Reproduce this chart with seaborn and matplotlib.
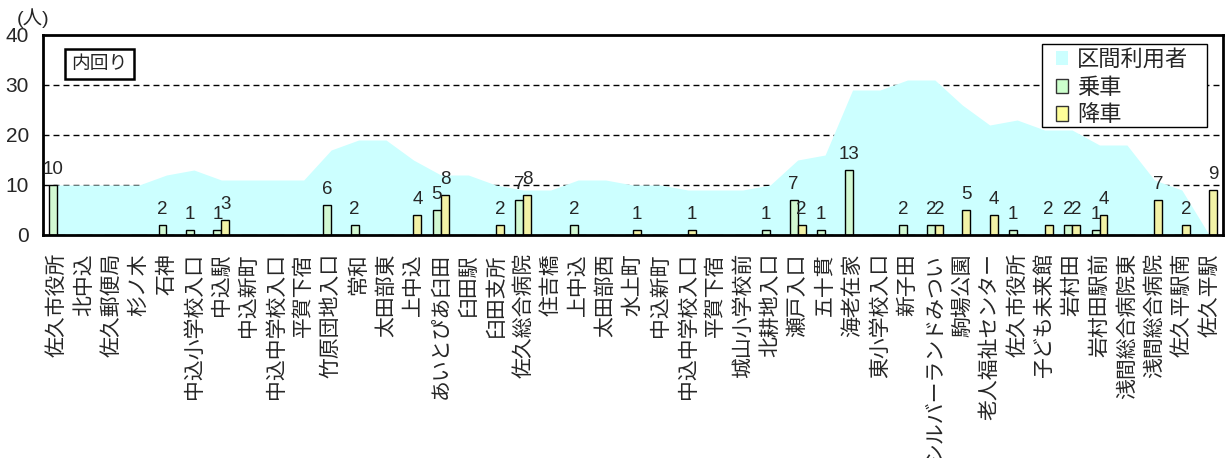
import numpy as np
import pandas as pd
import seaborn as sns
import matplotlib.pyplot as plt
from matplotlib.patches import Patch, Rectangle

# 停留所 (内回り)
stops = [
    "佐久市役所", "北中込", "佐久郵便局", "杉ノ木", "石神", "中込小学校入口", "中込駅",
    "中込新町", "中込中学校入口", "平賀下宿", "竹原団地入口", "常和", "太田部東", "上中込",
    "あいとぴあ臼田", "臼田駅", "臼田支所", "佐久総合病院", "住吉橋", "上中込", "太田部西",
    "水上町", "中込新町", "中込中学校入口", "平賀下宿", "城山小学校前", "北耕地入口", "瀬戸入口",
    "五十貫", "海老在家", "東小学校入口", "新子田", "シルバーランドみつい", "駒場公園",
    "老人福祉センター", "佐久市役所", "子ども未来館", "岩村田", "岩村田駅前", "浅間総合病院東",
    "浅間総合病院", "佐久平駅南", "佐久平駅",
]
# 区間利用者
riders = [10, 10, 10, 10, 12, 13, 11, 11, 11, 11, 17, 19, 19, 15, 12, 12, 10, 9, 9, 11, 11,
          10, 10, 9, 9, 9, 10, 15, 16, 29, 29, 31, 31, 26, 22, 23, 21, 21, 18, 18, 11, 9, 0]
# 乗車
board = [10, 0, 0, 0, 2, 1, 1, 0, 0, 0, 6, 2, 0, 0, 5, 0, 0, 7, 0, 2, 0,
         0, 0, 0, 0, 0, 1, 7, 1, 13, 0, 2, 2, 0, 0, 1, 0, 2, 1, 0, 0, 0, 0]
# 降車
alight = [0, 0, 0, 0, 0, 0, 3, 0, 0, 0, 0, 0, 0, 4, 8, 0, 2, 8, 0, 0, 0,
          1, 0, 1, 0, 0, 0, 2, 0, 0, 0, 0, 2, 5, 4, 0, 2, 2, 4, 0, 7, 2, 9]

c_area = "#CCFFFF"
c_board = "#CCFFCC"
c_alight = "#FFFF99"

sns.set_style("white")
plt.rcParams["font.family"] = ["Liberation Sans", "Noto Sans CJK JP"]

W, H = 1229, 458
fig = plt.figure(figsize=(W / 100, H / 100), dpi=100)
ax = fig.add_axes([43 / W, 1 - 235 / H, 1180 / W, 200 / H])

x = np.arange(len(stops))

# 横の点線 (面の下)
for yv in (10, 20, 30):
    ax.axhline(yv, color="black", lw=1, linestyle=(0, (4.3, 2.9)), zorder=0.5)

ax.fill_between(x, riders, color=c_area, lw=0, zorder=1)

df = pd.DataFrame({
    "idx": np.tile(x, 2),
    "value": board + alight,
    "kind": ["乗車"] * len(stops) + ["降車"] * len(stops),
})
sns.barplot(data=df, x="idx", y="value", hue="kind",
            palette={"乗車": c_board, "降車": c_alight},
            width=0.58, edgecolor="black", linewidth=1, legend=False,
            ax=ax, zorder=2)

for cont, vals in zip(ax.containers, [board, alight]):
    ax.bar_label(cont, labels=[str(v) if v else "" for v in vals],
                 padding=5, fontsize=13.5)

ax.set_xlim(-0.5, len(stops) - 0.5)
ax.set_ylim(0, 40)
ax.set_yticks([0, 10, 20, 30, 40])
ax.tick_params(axis="y", length=0, pad=10, labelsize=15)
ax.set_xticks(x)
ax.set_xticklabels(stops, rotation=90, fontsize=15)
ax.set_xticks(x[:-1] + 0.5, minor=True)
ax.tick_params(axis="x", which="major", length=0, pad=13)
ax.tick_params(axis="x", which="minor", direction="in", length=4, width=1,
               color="#808080", bottom=True)
ax.set_xlabel("")
ax.set_ylabel("")

for s in ax.spines.values():
    s.set_visible(True)
    s.set_color("black")
    s.set_linewidth(2)

ax.text(0.0479, 0.855, "内回り", transform=ax.transAxes, ha="center", va="center",
        fontsize=13.5, bbox=dict(boxstyle="square,pad=0.36", fc="white", ec="black", lw=1.8))
fig.text(33 / W, 1 - 18 / H, "(人)", ha="center", va="center", fontsize=14)

# 凡例
ax.add_patch(Rectangle((1042 / W, 1 - 127 / H), 165 / W, 83 / H, transform=fig.transFigure,
                       fc="white", ec="black", lw=1, zorder=4, clip_on=False))
handles = [Patch(fc=c_area, ec="none"),
           Patch(fc=c_board, ec="#333333", lw=1),
           Patch(fc=c_alight, ec="#333333", lw=1)]
leg = ax.legend(handles, ["区間利用者", "乗車", "降車"], loc="upper left",
                bbox_to_anchor=(1056 / W, 1 - 50 / H), bbox_transform=fig.transFigure,
                borderaxespad=0, borderpad=0, fontsize=16, frameon=False,
                handlelength=0.55, handleheight=0.6, handletextpad=0.4,
                labelspacing=0.3)
leg.set_zorder(5)

fig.savefig("out.png", dpi=100)
